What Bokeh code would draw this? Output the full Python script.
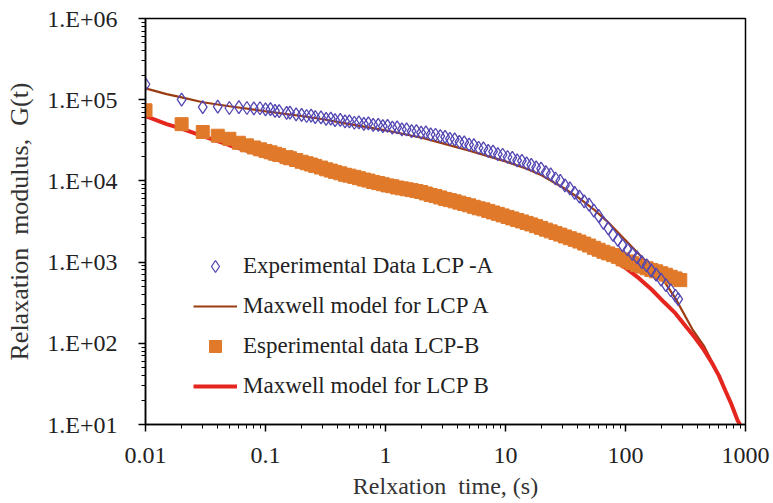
from bokeh.plotting import figure
from bokeh.models import FixedTicker, CustomJSTickFormatter, Legend, LegendItem
from bokeh.embed import file_html
from bokeh.resources import INLINE

# ---- data ----
tA = [0.01, 0.02, 0.03, 0.04, 0.05, 0.06, 0.07, 0.08, 0.09, 0.10, 0.11, 0.12, 0.13, 0.15, 0.16,
      0.18, 0.20, 0.22, 0.24, 0.26, 0.29, 0.32, 0.35, 0.38, 0.42, 0.46, 0.50, 0.55, 0.60, 0.66,
      0.72, 0.79, 0.87, 0.95, 1.04, 1.14, 1.25, 1.37, 1.50, 1.65, 1.81, 1.98, 2.17, 2.38, 2.61,
      2.86, 3.14, 3.44, 3.77, 4.13, 4.53, 4.97, 5.45, 5.97, 6.55, 7.18, 7.87, 8.63, 9.46, 10.4,
      11.4, 12.5, 13.7, 15.0, 16.4, 18.0, 19.8, 21.7, 23.8, 26.1, 28.6, 31.3, 34.4, 37.7, 41.3,
      45.3, 49.7, 54.5, 59.7, 65.5, 71.8, 78.7, 86.3, 94.6, 104, 114, 125, 137, 150, 164,
      180, 198, 217, 238, 261, 275]
gA = [155000, 100000, 81000, 82000, 79000, 81000, 79000, 78000, 78500, 76000, 76500, 73000, 72500, 69000, 69500,
      66000, 65000, 63000, 63500, 61000, 60500, 58000, 58500, 56000, 56500, 54000, 54000, 52000, 52500, 50500,
      51000, 48900, 49000, 47200, 47500, 45200, 45500, 43100, 43000, 41100, 41000, 39200, 39500, 37300, 37000,
      35500, 34800, 32900, 32500, 30300, 29800, 28000, 27500, 25600, 25200, 23500, 23000, 21400, 21000, 19700,
      19200, 17900, 17600, 16400, 15800, 14700, 14200, 12800, 12000, 10700, 10000, 8800, 8100, 7100, 6400,
      5600, 5100, 4300, 3700, 3040, 2600, 2170, 1880, 1610, 1430, 1260, 1140, 1000, 910, 790,
      700, 610, 520, 450, 385, 350]

tB = [0.01, 0.02, 0.03, 0.04, 0.05, 0.06, 0.07, 0.08, 0.09, 0.10, 0.11, 0.12, 0.13, 0.15, 0.16,
      0.18, 0.20, 0.22, 0.24, 0.26, 0.29, 0.32, 0.35, 0.38, 0.42, 0.46, 0.50, 0.55, 0.60, 0.66,
      0.72, 0.79, 0.87, 0.95, 1.04, 1.14, 1.25, 1.37, 1.50, 1.65, 1.81, 1.98, 2.17, 2.38, 2.61,
      2.86, 3.14, 3.44, 3.77, 4.13, 4.53, 4.97, 5.45, 5.97, 6.55, 7.18, 7.87, 8.63, 9.46, 10.4,
      11.4, 12.5, 13.7, 15.0, 16.4, 18.0, 19.8, 21.7, 23.8, 26.1, 28.6, 31.3, 34.4, 37.7, 41.3,
      45.3, 49.7, 54.5, 59.7, 65.5, 71.8, 78.7, 86.3, 94.6, 104, 114, 125, 137, 150, 164,
      180, 198, 217, 238, 261, 286]
gB = [74000, 50000, 40000, 36000, 33000, 29500, 27400, 25800, 24500, 23400, 22500, 21600, 20900, 19600, 19000,
      18100, 17200, 16500, 15900, 15300, 14600, 13900, 13400, 12900, 12400, 11900, 11600, 11200, 10800, 10400,
      10100, 9700, 9400, 9100, 8800, 8600, 8300, 8100, 7900, 7700, 7500, 7300, 7000, 6700, 6500,
      6250, 6000, 5800, 5600, 5400, 5200, 5000, 4800, 4600, 4460, 4270, 4090, 3930, 3760, 3600,
      3450, 3300, 3170, 3040, 2910, 2770, 2640, 2510, 2390, 2280, 2180, 2070, 1970, 1880, 1790,
      1690, 1600, 1500, 1420, 1340, 1280, 1220, 1160, 1080, 1020, 970, 920, 880, 840, 800,
      770, 730, 700, 660, 630, 600]

tMA = [0.01, 0.015, 0.02, 0.03, 0.05, 0.1, 0.2, 0.3, 0.5, 1, 2, 3, 5, 10, 15, 20, 30, 40, 55, 70,
       100, 150, 215, 260, 365, 450, 530, 620, 720, 800, 880]
gMA = [138000, 117000, 107000, 93000, 83000, 72000, 63000, 57500, 50000, 42000, 34000, 29000, 23500,
       17400, 14100, 11700, 8300, 6300, 4400, 3200, 1860, 1000, 550, 360, 145, 93, 58, 35, 21, 15, 10]

tMB = [0.01, 0.015, 0.02, 0.03, 0.05, 0.1, 0.2, 0.3, 0.5, 1, 2, 3, 5, 10, 20, 30, 50, 70, 100, 130,
       165, 210, 260, 320, 380, 450, 530, 600, 680, 760, 860, 900]
gMB = [63000, 50000, 44000, 35500, 27500, 20000, 15000, 12900, 10700, 8500, 6800, 5900, 4700, 3400,
       2400, 1900, 1480, 1170, 850, 630, 460, 320, 235, 160, 117, 83, 56, 40, 26, 18, 11.2, 10]

x_ticks = [0.01, 0.1, 1, 10, 100, 1000]
y_ticks = [10, 100, 1000, 10000, 100000, 1000000]
labels = ["Experimental Data LCP -A", "Maxwell model for LCP A",
          "Esperimental data LCP-B", "Maxwell model for LCP B"]
x_title = "Relxation\u00a0 time,\u00a0(s)"
y_title = "Relaxation\u00a0 modulus,\u00a0 G(t)"

FONT = "Liberation Serif"

p = figure(width=773, height=503, x_axis_type="log", y_axis_type="log",
           x_range=(0.01, 1000), y_range=(10, 1e6),
           output_backend="svg", toolbar_location=None,
           min_border_left=145, min_border_right=28, min_border_top=18, min_border_bottom=79)
p.background_fill_color = "white"
p.border_fill_color = "white"
p.outline_line_color = "black"
p.outline_line_width = 1.5
p.xgrid.visible = False
p.ygrid.visible = False

x_minor = [m * d for d in [0.01, 0.1, 1, 10, 100] for m in range(2, 10)]
y_minor = [m * d for d in [10, 100, 1000, 10000, 100000] for m in range(2, 10)]
p.xaxis.ticker = FixedTicker(ticks=x_ticks, minor_ticks=x_minor)
p.yaxis.ticker = FixedTicker(ticks=y_ticks, minor_ticks=y_minor)
p.xaxis.formatter = CustomJSTickFormatter(code="return String(tick);")
p.yaxis.formatter = CustomJSTickFormatter(
    code="var e = Math.round(Math.log10(tick)); return '1.E+' + (e < 10 ? '0' : '') + e;")

for ax in (p.xaxis, p.yaxis):
    ax.axis_line_color = "black"
    ax.axis_line_width = 1.5
    ax.major_tick_line_color = "black"
    ax.minor_tick_line_color = "black"
    ax.major_tick_line_width = 1.5
    ax.minor_tick_line_width = 1
    ax.major_tick_out = 7
    ax.major_tick_in = 0
    ax.minor_tick_out = 4
    ax.minor_tick_in = 0
    ax.major_label_text_font = FONT
    ax.major_label_text_color = "#222222"
    ax.major_label_text_font_size = "24px"
    ax.axis_label_text_font = FONT
    ax.axis_label_text_font_style = "normal"
    ax.axis_label_text_color = "#333333"

p.xaxis.axis_label = x_title
p.yaxis.axis_label = y_title
p.xaxis.axis_label_text_font_size = "24px"
p.yaxis.axis_label_text_font_size = "26px"
p.xaxis.major_label_standoff = 16
p.xaxis.axis_label_standoff = 7
p.yaxis.major_label_standoff = 21
p.yaxis.axis_label_standoff = 10

r_ma = p.line(tMA, gMA, line_color="#9B3C12", line_width=2.2)
r_mb = p.line(tMB, gMB, line_color="#E5261E", line_width=4)
r_b = p.scatter(tB, gB, marker="square", size=13, fill_color="#E07A2A", line_color="#E07A2A")
r_a = p.scatter(tA, gA, marker="diamond", size=13, fill_color=None,
                line_color="#5246B2", line_width=1.3)

legend = Legend(items=[LegendItem(label=labels[0], renderers=[r_a]),
                       LegendItem(label=labels[1], renderers=[r_ma]),
                       LegendItem(label=labels[2], renderers=[r_b]),
                       LegendItem(label=labels[3], renderers=[r_mb])],
                location=(48, 23))
legend.border_line_color = None
legend.background_fill_alpha = 0
legend.padding = 0
legend.margin = 0
legend.spacing = 10
legend.glyph_width = 44
legend.glyph_height = 30
legend.label_height = 30
legend.label_standoff = 6
legend.label_text_font = FONT
legend.label_text_font_size = "23px"
legend.label_text_color = "#222222"
p.add_layout(legend, "center")

open("out.html", "w").write(file_html(p, INLINE))
